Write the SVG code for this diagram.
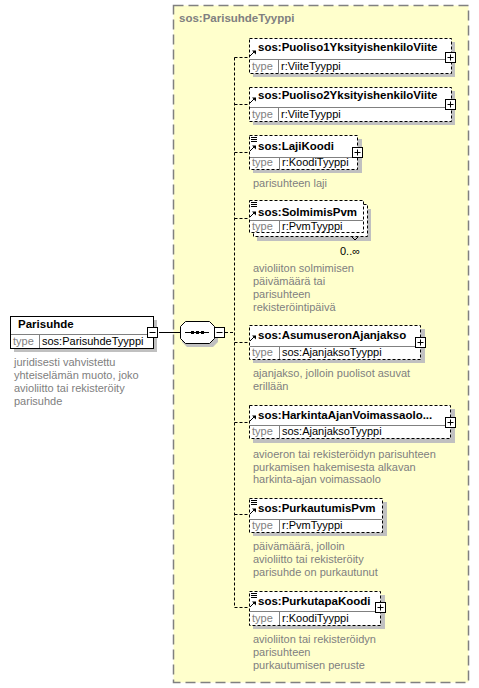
<svg xmlns="http://www.w3.org/2000/svg" width="479" height="688" viewBox="0 0 479 688">
<style>
.bg{fill:#ffffff}
.yel{fill:#ffffcc;stroke:#808080;stroke-width:1.5;stroke-dasharray:10,5}
.sh{fill:#c0c0c0}
.box{fill:#ffffff;stroke:#000000;stroke-width:1}
.dbox{fill:#ffffff;stroke:#000000;stroke-width:1;stroke-dasharray:3,2}
.div{stroke:#808080;stroke-width:1;fill:none}
.hd{font-family:"Liberation Sans",Arial,sans-serif;font-weight:bold;font-size:11.5px;fill:#000}
.tl{font-family:"Liberation Sans",Arial,sans-serif;font-size:11px;fill:#808080}
.tv{font-family:"Liberation Sans",Arial,sans-serif;font-size:11px;fill:#000}
.ds{font-family:"Liberation Sans",Arial,sans-serif;font-size:11px;fill:#808080}
.ttl{font-family:"Liberation Sans",Arial,sans-serif;font-weight:bold;font-size:11.5px;fill:#808080}
.con{stroke:#000;stroke-width:1;fill:none;stroke-dasharray:3,2}
.sol{stroke:#000;stroke-width:1;fill:none}
.pm{fill:#fff;stroke:#000;stroke-width:1}
.ic{stroke:#000;stroke-width:1;fill:none}
</style>
<defs>
<g id="ref"><path d="M0,6 L5,1" class="ic"/><path d="M2,0.5 L6,0.5 L6,4.5 Z" fill="#000"/></g>
<g id="doc"><path d="M0,0.5 H6 M0,2.5 H6 M0,4.5 H6" class="ic"/></g>
<g id="plus"><rect x="0.5" y="0.5" width="10" height="10" class="pm"/><path d="M2.5,5.5 H8.5 M5.5,2.5 V8.5" class="ic"/></g>
<g id="minus"><rect x="0.5" y="0.5" width="10" height="10" class="pm"/><path d="M2.5,5.5 H8.5" class="ic"/></g>
</defs>
<rect width="479" height="688" class="bg"/>

<g id="complexType">
<rect x="173.5" y="5.5" width="295" height="677" class="yel"/>
<text x="179" y="22" class="ttl">sos:ParisuhdeTyyppi</text>
</g>

<g id="connectors">
<path d="M159,332.5 H180" class="sol"/>
<path d="M225,332.5 H234.5" class="con"/>
<path d="M234.5,57.5 V607.5" class="con"/>
<path d="M234.5,57.5 H249"/>
<path d="M234.5,57.5 H249 M234.5,104.5 H249 M234.5,152.5 H249 M234.5,218.5 H249 M234.5,342.5 H249 M234.5,422.5 H249 M234.5,514.5 H249 M234.5,607.5 H249" class="con"/>
</g>

<g id="Parisuhde">
<rect x="14" y="320" width="143" height="32" class="sh"/>
<rect x="10.5" y="316.5" width="143" height="32" class="box"/>
<path d="M11,334.5 H153 M39.5,335 V348" class="div"/>
<text x="18" y="328" class="hd">Parisuhde</text>
<text x="13" y="345" class="tl">type</text>
<text x="42" y="345" class="tv">sos:ParisuhdeTyyppi</text>
<use href="#minus" x="147" y="327"/>
<text class="ds"><tspan x="14" y="366">juridisesti vahvistettu</tspan><tspan x="14" y="379">yhteiselämän muoto, joko</tspan><tspan x="14" y="392">avioliitto tai rekisteröity</tspan><tspan x="14" y="405">parisuhde</tspan></text>
</g>

<g id="sequence">
<path d="M187,325 H213 L218,330 V342 L213,347 H187 L182,342 V330 Z" class="sh"/>
<path d="M185.5,321.5 H209.5 L214.5,326.5 V338.5 L209.5,343.5 H185.5 L180.5,338.5 V326.5 Z" class="box"/>
<path d="M185,332.5 H209" class="ic"/>
<rect x="191" y="331" width="3" height="3" fill="#000"/>
<rect x="196" y="331" width="3" height="3" fill="#000"/>
<rect x="201" y="331" width="3" height="3" fill="#000"/>
<use href="#minus" x="214" y="327"/>
</g>

<g id="Puoliso1YksityishenkiloViite">
<rect x="253" y="42" width="202" height="35" class="sh"/>
<rect x="249.5" y="38.5" width="202" height="35" class="dbox"/>
<path d="M250,59.5 H451 M278.5,60 V73" class="div"/>
<use href="#ref" x="250" y="50"/>
<text x="258" y="51" class="hd">sos:Puoliso1YksityishenkiloViite</text>
<text x="252" y="70" class="tl">type</text>
<text x="281" y="70" class="tv">r:ViiteTyyppi</text>
<use href="#plus" x="445" y="52"/>
</g>

<g id="Puoliso2YksityishenkiloViite">
<rect x="253" y="91" width="202" height="34" class="sh"/>
<rect x="249.5" y="87.5" width="202" height="34" class="dbox"/>
<path d="M250,107.5 H451 M278.5,108 V121" class="div"/>
<use href="#ref" x="250" y="97"/>
<text x="258" y="99" class="hd">sos:Puoliso2YksityishenkiloViite</text>
<text x="252" y="118" class="tl">type</text>
<text x="281" y="118" class="tv">r:ViiteTyyppi</text>
<use href="#plus" x="445" y="99"/>
</g>

<g id="LajiKoodi">
<rect x="253" y="139" width="109" height="34" class="sh"/>
<rect x="249.5" y="135.5" width="108" height="34" class="dbox"/>
<path d="M250,157.5 H357 M279.5,158 V169" class="div"/>
<use href="#doc" x="251" y="137"/>
<use href="#ref" x="250" y="145"/>
<text x="258" y="150" class="hd">sos:LajiKoodi</text>
<text x="252" y="166" class="tl">type</text>
<text x="282" y="166" class="tv">r:KoodiTyyppi</text>
<use href="#plus" x="352" y="147"/>
<text x="253" y="187" class="ds">parisuhteen laji</text>
</g>

<g id="SolmimisPvm">
<rect x="257" y="209" width="114" height="32" class="sh"/>
<rect x="253.5" y="204.5" width="114" height="32" class="dbox"/>
<rect x="249.5" y="200.5" width="114" height="32" class="dbox"/>
<path d="M250,220.5 H363 M279.5,221 V232" class="div"/>
<use href="#doc" x="251" y="202"/>
<use href="#ref" x="250" y="211"/>
<text x="258" y="216" class="hd">sos:SolmimisPvm</text>
<text x="252" y="230" class="tl">type</text>
<text x="282" y="230" class="tv">r:PvmTyyppi</text>
<path d="M352,237 L355,240 L358,237" class="ic"/>
<text x="340" y="255" class="tv">0..∞</text>
<text class="ds"><tspan x="253" y="272">avioliiton solmimisen</tspan><tspan x="253" y="285">päivämäärä tai</tspan><tspan x="253" y="298">parisuhteen</tspan><tspan x="253" y="311">rekisteröintipäivä</tspan></text>
</g>

<g id="AsumuseronAjanjakso">
<rect x="253" y="329" width="172" height="34" class="sh"/>
<rect x="249.5" y="325.5" width="171" height="34" class="dbox"/>
<path d="M250,346.5 H420 M279.5,347 V359" class="div"/>
<use href="#ref" x="250" y="335"/>
<text x="258" y="339" class="hd">sos:AsumuseronAjanjakso</text>
<text x="252" y="356" class="tl">type</text>
<text x="282" y="356" class="tv">sos:AjanjaksoTyyppi</text>
<use href="#plus" x="415" y="337"/>
<text class="ds"><tspan x="253" y="377">ajanjakso, jolloin puolisot asuvat</tspan><tspan x="253" y="390">erillään</tspan></text>
</g>

<g id="HarkintaAjanVoimassaolo">
<rect x="253" y="409" width="202" height="34" class="sh"/>
<rect x="249.5" y="405.5" width="201" height="33" class="dbox"/>
<path d="M250,425.5 H450 M279.5,426 V438" class="div"/>
<use href="#ref" x="250" y="415"/>
<text x="258" y="419" class="hd">sos:HarkintaAjanVoimassaolo...</text>
<text x="252" y="435" class="tl">type</text>
<text x="282" y="435" class="tv">sos:AjanjaksoTyyppi</text>
<use href="#plus" x="445" y="417"/>
<text class="ds"><tspan x="253" y="458">avioeron tai rekisteröidyn parisuhteen</tspan><tspan x="253" y="471">purkamisen hakemisesta alkavan</tspan><tspan x="253" y="483">harkinta-ajan voimassaolo</tspan></text>
</g>

<g id="PurkautumisPvm">
<rect x="253" y="502" width="134" height="34" class="sh"/>
<rect x="249.5" y="498.5" width="133" height="34" class="dbox"/>
<path d="M250,519.5 H382 M279.5,520 V532" class="div"/>
<use href="#doc" x="251" y="500"/>
<use href="#ref" x="250" y="508"/>
<text x="258" y="512" class="hd">sos:PurkautumisPvm</text>
<text x="252" y="529" class="tl">type</text>
<text x="282" y="529" class="tv">r:PvmTyyppi</text>
<text class="ds"><tspan x="253" y="550">päivämäärä, jolloin</tspan><tspan x="253" y="563">avioliitto tai rekisteröity</tspan><tspan x="253" y="576">parisuhde on purkautunut</tspan></text>
</g>

<g id="PurkutapaKoodi">
<rect x="253" y="595" width="132" height="34" class="sh"/>
<rect x="249.5" y="591.5" width="131" height="34" class="dbox"/>
<path d="M250,611.5 H380 M279.5,612 V625" class="div"/>
<use href="#doc" x="251" y="593"/>
<use href="#ref" x="250" y="601"/>
<text x="258" y="605" class="hd">sos:PurkutapaKoodi</text>
<text x="252" y="622" class="tl">type</text>
<text x="282" y="622" class="tv">r:KoodiTyyppi</text>
<use href="#plus" x="375" y="602"/>
<text class="ds"><tspan x="253" y="643">avioliiton tai rekisteröidyn</tspan><tspan x="253" y="656">parisuhteen</tspan><tspan x="253" y="669">purkautumisen peruste</tspan></text>
</g>
</svg>
